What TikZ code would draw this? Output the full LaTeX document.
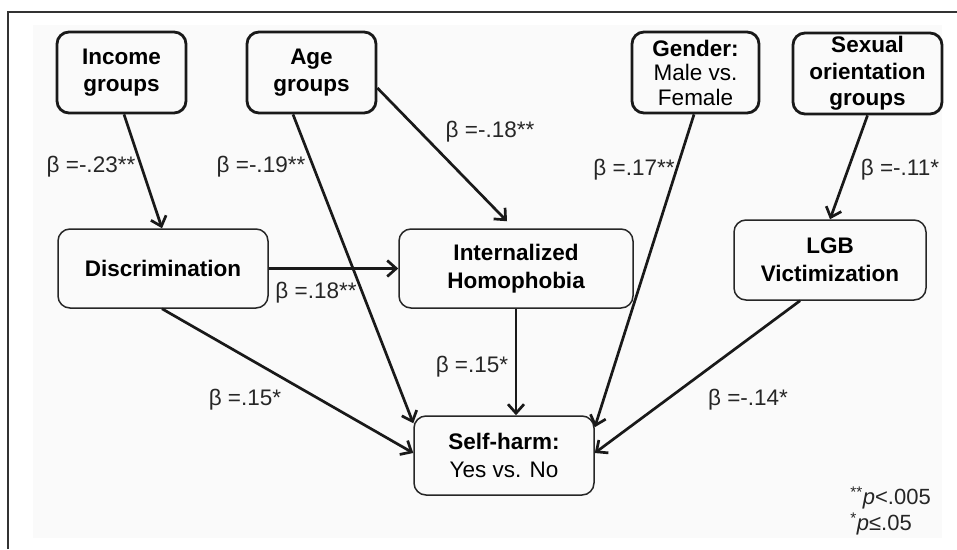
\documentclass[tikz,border=0pt]{standalone}
\usepackage{fontspec}
\setmainfont{Liberation Sans}
\usetikzlibrary{arrows.meta,positioning,calc}
\tikzset{every picture/.style={line width=0.75pt}}
\tikzset{
  topbox/.style={draw=black!90, line width=2.8pt, rounded corners=12pt, inner sep=0pt,
    align=center, font=\fontsize{22.5}{26.5}\selectfont\bfseries},
  midbox/.style={draw=black!85, line width=1.5pt, rounded corners=12pt, inner sep=0pt,
    align=center, font=\fontsize{22.5}{28}\selectfont\bfseries},
  effect/.style={draw=black!90, line width=2.7pt, -{Straight Barb[length=9pt,width=16pt,line width=2.7pt]}},
  coef/.style={font=\fontsize{22.5}{26}\selectfont, text=black!85}
}

\begin{document}
\begin{tikzpicture}[x=1pt, y=-1pt]
    % Rahmen und Hintergrund
    \useasboundingbox (0,0) rectangle (957,549);
    \fill[black!2] (33,25) rectangle (942,538);
    \draw[black!80, line width=1.5pt] (8,549) -- (8,12) -- (957,12);

    % obere Reihe
    \node[topbox, minimum width=129pt, minimum height=81pt] (inc) at (121.5,72.5) {Income\\groups};
    \node[topbox, minimum width=129pt, minimum height=81pt] (age) at (311.5,72.5) {Age\\groups};
    \node[topbox, minimum width=127pt, minimum height=81pt, font=\fontsize{22.5}{24.5}\selectfont\bfseries]
        (gen) at (695.5,72.5) {Gender:\\\mdseries Male vs.\\\mdseries Female};
    \node[topbox, minimum width=149pt, minimum height=81pt] (sex) at (867.5,73.5)
        {Sexual\\orientation\\groups};

    % mittlere Reihe
    \node[midbox, minimum width=210pt, minimum height=79pt] (disc) at (163,268.5) {Discrimination};
    \node[midbox, minimum width=234pt, minimum height=79pt] (ih) at (516,268.5) {Internalized\\Homophobia};
    \node[midbox, minimum width=192pt, minimum height=80pt] (lgb) at (830,260) {LGB\\Victimization};

    % Ergebnis
    \node[midbox, minimum width=180pt, minimum height=79pt] (sh) at (504,455.5)
        {Self-harm:\\\mdseries Yes vs. No};

    % Pfade
    \draw[effect] ([xshift=2.5pt]inc.south) -- ([xshift=-1pt]disc.north);
    \draw[effect] ([xshift=-18.5pt]age.south) -- ([yshift=-8pt]sh.north west);
    \draw[effect] ([yshift=-15.5pt]age.east) -- ([xshift=-9pt,yshift=7pt]ih.north);
    \draw[effect] (disc.east) -- (ih.west);
    \draw[effect] ([xshift=-1pt]disc.south) -- ([yshift=2.5pt]sh.west);
    \draw[effect] (ih.south) -- (ih.south |- sh.north);
    \draw[effect] ([xshift=-1.5pt]gen.south) -- ([yshift=-12pt]sh.north east);
    \draw[effect] (sex.south) -- (lgb.north);
    \draw[effect] ([xshift=-30pt]lgb.south) -- ([yshift=2.5pt]sh.east);

    % Koeffizienten
    \node[coef] (b-inc) at (91,167) {β =-.23**};
    \node[coef] (b-agesh) at (261,167) {β =-.19**};
    \node[coef] (b-ageih) at (490,132) {β =-.18**};
    \node[coef] (b-gen) at (634,170) {β =.17**};
    \node[coef] (b-sex) at (900,170) {β =-.11*};
    \node[coef] (b-disc) at (316,293) {β =.18**};
    \node[coef] (b-ih) at (472,367) {β =.15*};
    \node[coef] (b-discsh) at (245,400) {β =.15*};
    \node[coef] (b-lgb) at (748,400) {β =-.14*};

    % Signifikanz
    \node[coef, anchor=west, align=left, inner sep=0pt, font=\fontsize{22}{26}\selectfont] (sig) at (850,511)
        {\textsuperscript{**}\textit{p}<.005\\\textsuperscript{*}\textit{p}≤.05};
\end{tikzpicture}
\end{document}
